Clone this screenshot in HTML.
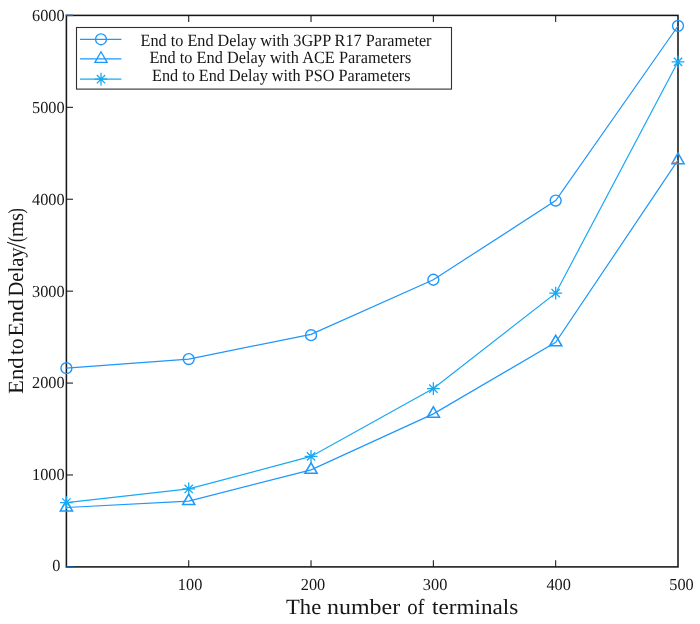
<!DOCTYPE html>
<html><head><meta charset="utf-8"><title>chart</title>
<style>
html,body{margin:0;padding:0;background:#fff;}
body{width:700px;height:624px;overflow:hidden;font-family:"Liberation Serif",serif;}
svg{display:block;will-change:transform;}
text{font-family:"Liberation Serif",serif;fill:#161616;text-rendering:geometricPrecision;}
</style></head><body>
<svg width="700" height="624" viewBox="0 0 700 624">
<rect width="700" height="624" fill="#fff"/>
<g stroke="#161616" fill="none">
<rect x="66.4" y="15.4" width="611.60" height="551.50" stroke-width="1.55"/>
<line x1="188.72" y1="566.9" x2="188.72" y2="560.3" stroke-width="1.05"/>
<line x1="188.72" y1="15.4" x2="188.72" y2="22.0" stroke-width="1.05"/>
<line x1="311.04" y1="566.9" x2="311.04" y2="560.3" stroke-width="1.05"/>
<line x1="311.04" y1="15.4" x2="311.04" y2="22.0" stroke-width="1.05"/>
<line x1="433.36" y1="566.9" x2="433.36" y2="560.3" stroke-width="1.05"/>
<line x1="433.36" y1="15.4" x2="433.36" y2="22.0" stroke-width="1.05"/>
<line x1="555.68" y1="566.9" x2="555.68" y2="560.3" stroke-width="1.05"/>
<line x1="555.68" y1="15.4" x2="555.68" y2="22.0" stroke-width="1.05"/>
<line x1="66.4" y1="474.98" x2="73.0" y2="474.98" stroke-width="1.05"/>
<line x1="66.4" y1="383.07" x2="73.0" y2="383.07" stroke-width="1.05"/>
<line x1="66.4" y1="291.15" x2="73.0" y2="291.15" stroke-width="1.05"/>
<line x1="66.4" y1="199.23" x2="73.0" y2="199.23" stroke-width="1.05"/>
<line x1="66.4" y1="107.32" x2="73.0" y2="107.32" stroke-width="1.05"/>
</g>
<g stroke="#0d62b5" stroke-width="1.4"><line x1="65.80000000000001" y1="15.4" x2="73.10000000000001" y2="15.4"/><line x1="65.80000000000001" y1="566.9" x2="73.10000000000001" y2="566.9"/></g>
<g fill="none" stroke="#1e96fc" stroke-width="1.2" stroke-linejoin="miter">
<polyline points="66.40,368.18 188.72,359.08 311.04,334.35 433.36,279.75 555.68,200.61 678.00,25.97"/>
<g stroke-width="1.4">
<circle cx="66.40" cy="368.18" r="5.45" />
<circle cx="188.72" cy="359.08" r="5.45" />
<circle cx="311.04" cy="335.18" r="5.45" />
<circle cx="433.36" cy="279.75" r="5.45" />
<circle cx="555.68" cy="200.61" r="5.45" />
<circle cx="678.00" cy="25.97" r="5.45" />
</g></g>
<g fill="none" stroke="#1e98fc" stroke-width="1.2" stroke-linejoin="miter">
<polyline points="66.40,507.52 188.72,501.09 311.04,469.84 433.36,413.86 555.68,342.35 678.00,160.17"/>
<g stroke-width="1.5">
<path d="M60.30,511.02 L72.50,511.02 L66.40,500.47 Z" />
<path d="M182.62,504.59 L194.82,504.59 L188.72,494.04 Z" />
<path d="M304.94,473.34 L317.14,473.34 L311.04,462.79 Z" />
<path d="M427.26,417.36 L439.46,417.36 L433.36,406.81 Z" />
<path d="M549.58,345.85 L561.78,345.85 L555.68,335.30 Z" />
<path d="M671.90,163.67 L684.10,163.67 L678.00,153.12 Z" />
</g></g>
<g fill="none" stroke="#18a8f4" stroke-width="1.2" stroke-linejoin="miter">
<polyline points="66.40,502.56 188.72,488.95 311.04,456.42 433.36,388.58 555.68,293.17 678.00,61.82"/>
<g stroke-width="1.3">
<path d="M60.00,502.56 H72.80 M66.40,496.16 V508.96 M62.25,498.41 L70.55,506.71 M62.25,506.71 L70.55,498.41" />
<path d="M182.32,488.95 H195.12 M188.72,482.55 V495.35 M184.57,484.80 L192.87,493.10 M184.57,493.10 L192.87,484.80" />
<path d="M304.64,456.42 H317.44 M311.04,450.02 V462.82 M306.89,452.27 L315.19,460.57 M306.89,460.57 L315.19,452.27" />
<path d="M426.96,388.58 H439.76 M433.36,382.18 V394.98 M429.21,384.43 L437.51,392.73 M429.21,392.73 L437.51,384.43" />
<path d="M549.28,293.17 H562.08 M555.68,286.77 V299.57 M551.53,289.02 L559.83,297.32 M551.53,297.32 L559.83,289.02" />
<path d="M671.60,61.82 H684.40 M678.00,55.42 V68.22 M673.85,57.67 L682.15,65.97 M673.85,65.97 L682.15,57.67" />
</g></g>
<line x1="671.8" y1="162.9" x2="677.2" y2="162.9" stroke="#e0682a" stroke-width="1.1" opacity="0.85"/>
<text x="32.00" y="480.38" font-size="16.8" textLength="32.60" lengthAdjust="spacingAndGlyphs">1000</text>
<text x="32.00" y="388.47" font-size="16.8" textLength="32.60" lengthAdjust="spacingAndGlyphs">2000</text>
<text x="32.00" y="296.55" font-size="16.8" textLength="32.60" lengthAdjust="spacingAndGlyphs">3000</text>
<text x="32.00" y="204.63" font-size="16.8" textLength="32.60" lengthAdjust="spacingAndGlyphs">4000</text>
<text x="32.00" y="112.72" font-size="16.8" textLength="32.60" lengthAdjust="spacingAndGlyphs">5000</text>
<text x="32.00" y="20.80" font-size="16.8" textLength="32.60" lengthAdjust="spacingAndGlyphs">6000</text>
<text x="52.35" y="571.20" font-size="16.8" textLength="8.15" lengthAdjust="spacingAndGlyphs">0</text>
<text x="177.87" y="589.70" font-size="16.8" textLength="24.45" lengthAdjust="spacingAndGlyphs">100</text>
<text x="300.77" y="589.70" font-size="16.8" textLength="24.45" lengthAdjust="spacingAndGlyphs">200</text>
<text x="422.87" y="589.70" font-size="16.8" textLength="24.45" lengthAdjust="spacingAndGlyphs">300</text>
<text x="546.47" y="589.70" font-size="16.8" textLength="24.45" lengthAdjust="spacingAndGlyphs">400</text>
<text x="669.27" y="589.70" font-size="16.8" textLength="24.45" lengthAdjust="spacingAndGlyphs">500</text>
<text x="286.0" y="614.4" font-size="21.6" textLength="35.2" lengthAdjust="spacingAndGlyphs">The</text>
<text x="327.0" y="614.4" font-size="21.6" textLength="73.2" lengthAdjust="spacingAndGlyphs">number</text>
<text x="407.2" y="614.4" font-size="21.6" textLength="17.4" lengthAdjust="spacingAndGlyphs">of</text>
<text x="432.1" y="614.4" font-size="21.6" textLength="86.2" lengthAdjust="spacingAndGlyphs">terminals</text>
<g transform="translate(22.6,392) rotate(-90)">
<text x="-1.9" y="0" font-size="21.6" textLength="36.5" lengthAdjust="spacingAndGlyphs">End</text>
<text x="37.1" y="0" font-size="21.6" textLength="16.6" lengthAdjust="spacingAndGlyphs">to</text>
<text x="55.2" y="0" font-size="21.6" textLength="37.8" lengthAdjust="spacingAndGlyphs">End</text>
<text x="95.4" y="0" font-size="21.6" textLength="49.2" lengthAdjust="spacingAndGlyphs">Delay</text>
<text x="150.1" y="0" font-size="21.6" textLength="5.3" lengthAdjust="spacingAndGlyphs">(</text>
<text x="154.9" y="0" font-size="21.6" textLength="24.0" lengthAdjust="spacingAndGlyphs">ms</text>
<text x="178.4" y="0" font-size="21.6" textLength="5.3" lengthAdjust="spacingAndGlyphs">)</text>
</g>
<line x1="7.1" y1="242.3" x2="25.4" y2="248.4" stroke="#1c1c1c" stroke-width="1.15"/>
<rect x="76.5" y="27.5" width="375" height="61.6" fill="#fff" stroke="#303030" stroke-width="1.1"/>
<g fill="none" stroke="#1e96fc" stroke-width="1.2"><line x1="80" y1="39.3" x2="121.4" y2="39.3"/><g stroke-width="1.3"><circle cx="101.00" cy="39.30" r="5.45" /></g></g>
<g fill="none" stroke="#1e98fc" stroke-width="1.2"><line x1="80" y1="58.8" x2="121.4" y2="58.8"/><g stroke-width="1.3"><path d="M94.90,62.30 L107.10,62.30 L101.00,51.75 Z" /></g></g>
<g fill="none" stroke="#18a8f4" stroke-width="1.2"><line x1="80" y1="79.2" x2="121.4" y2="79.2"/><g stroke-width="1.3"><path d="M94.60,79.20 H107.40 M101.00,72.80 V85.60 M96.85,75.05 L105.15,83.35 M96.85,83.35 L105.15,75.05" /></g></g>
<text x="140.5" y="46.2" font-size="17.2" textLength="291.0" lengthAdjust="spacingAndGlyphs">End to End Delay with 3GPP R17 Parameter</text>
<text x="149.4" y="62.8" font-size="17.2" textLength="262.0" lengthAdjust="spacingAndGlyphs">End to End Delay with ACE Parameters</text>
<text x="152.0" y="80.6" font-size="17.2" textLength="258.6" lengthAdjust="spacingAndGlyphs">End to End Delay with PSO Parameters</text>
</svg></body></html>
